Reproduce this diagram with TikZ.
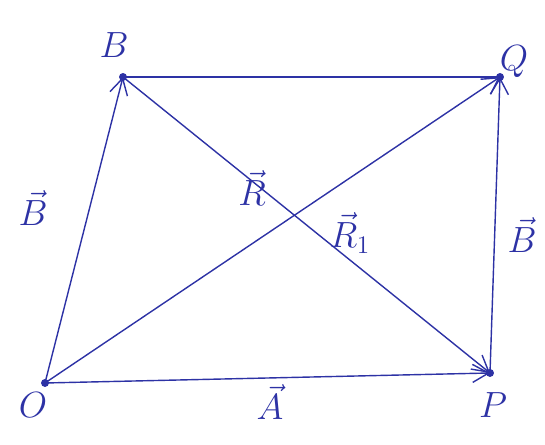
\documentclass[tikz,border=0pt]{standalone}
\usepackage{amsmath, amssymb}
\usepackage{tikz}
\usetikzlibrary{arrows.meta, positioning, calc}
\definecolor{pen}{RGB}{45,50,165}
\tikzset{>={Straight Barb[length=3.2mm,width=3.6mm]}}
\tikzset{vec/.style={draw=pen, line width=0.8pt, ->}}
\tikzset{lab/.style={text=pen, font=\huge}}
\tikzset{pt/.style={circle, fill=pen, inner sep=1.6pt}}

\begin{document}
\begin{tikzpicture}[x=0.02cm, y=-0.02cm]
          \useasboundingbox (0,0) rectangle (545,445);
          \node[pt] (O) at (45,383) {};
          \node[pt] (B) at (123,77) {};
          \node[pt] (Q) at (500,77) {};
          \node[pt] (P) at (490,373) {};
          % sides of the parallelogram
          \draw[vec] (O.center) -- (B.center);
          \draw[vec] (O.center) -- (P.center);
          \draw[vec] (P.center) -- (Q.center);
          \draw[draw=pen, line width=0.8pt] (B.center) -- (Q.center);
          % diagonals
          \draw[vec] (O.center) -- (Q.center);
          \draw[vec] (B.center) -- (P.center);
          % point names
          \node[lab] (nO) at (33,405) {$O$};
          \node[lab] (nB) at (114,45) {$B$};
          \node[lab] (nQ) at (514,62) {$Q$};
          \node[lab] (nP) at (493,405) {$P$};
          % vector labels
          \node[lab] (vB1) at (33,208) {$\vec{B}$};
          \node[lab] (vA) at (270,402) {$\vec{A}$};
          \node[lab] (vB2) at (522,235) {$\vec{B}$};
          \node[lab] (vR) at (252,188) {$\vec{R}$};
          \node[lab] (vR1) at (350,233) {$\vec{R}_1$};
        \end{tikzpicture}
\end{document}
